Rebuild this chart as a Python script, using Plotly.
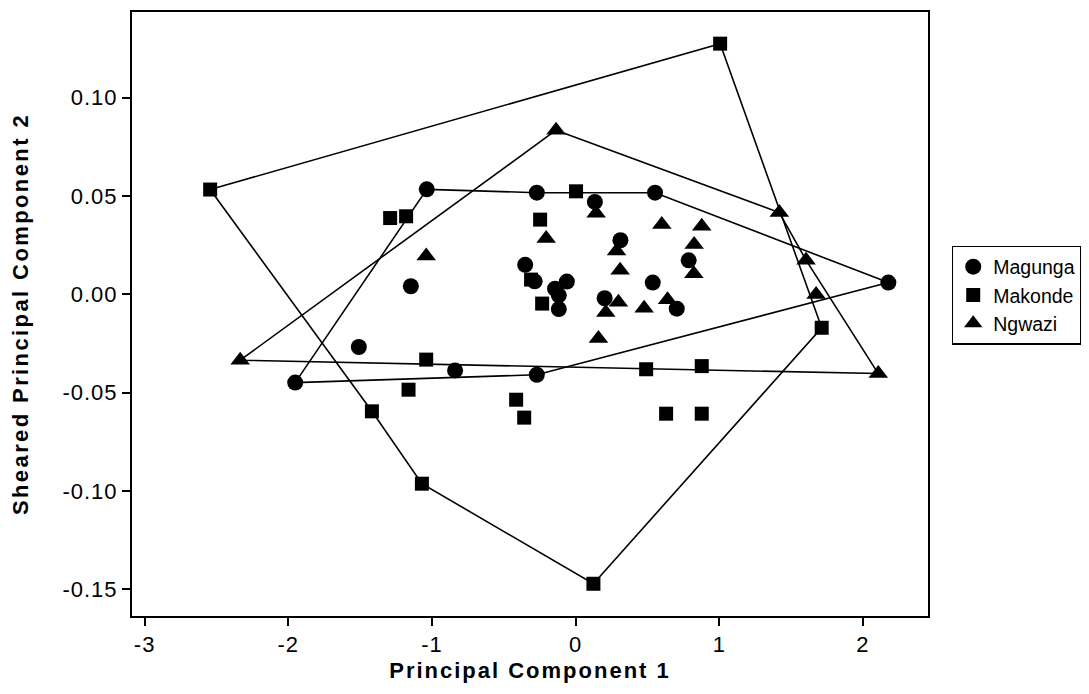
import plotly.graph_objects as go

# ---- data ----
magunga_x = [-1.036, -0.270, 0.134, 0.553, 0.312, -0.351, -1.147, 0.787, -0.285, -0.061,
             -0.143, -0.117, -0.117, 0.202, 0.537, 0.704, 2.177, -1.509, -0.839, -0.270, -1.952]
magunga_y = [0.0534, 0.0517, 0.0470, 0.0517, 0.0275, 0.0150, 0.0041, 0.0173, 0.0066, 0.0065,
             0.0029, -0.0005, -0.0075, -0.0020, 0.0060, -0.0073, 0.0060, -0.0268, -0.0387, -0.0409, -0.0449]
magunga_hull = [0, 1, 3, 16, 19, 20, 0]

makonde_x = [-2.544, 1.006, 0.003, -1.291, -1.180, -0.247, -0.310, -0.233, 1.713, -1.040,
             0.491, 0.878, -1.163, -1.418, -0.414, -0.358, 0.630, 0.878, -1.070, 0.124]
makonde_y = [0.0533, 0.1275, 0.0524, 0.0388, 0.0397, 0.0380, 0.0075, -0.0047, -0.0170, -0.0332,
             -0.0381, -0.0365, -0.0485, -0.0595, -0.0536, -0.0627, -0.0607, -0.0607, -0.0963, -0.1472]
makonde_hull = [0, 1, 8, 19, 18, 13, 0]

ngwazi_x = [-0.136, 0.143, -0.205, 0.600, 0.878, 0.825, 0.285, -1.040, 0.310, 0.823,
            0.298, 0.210, 0.477, 0.640, 0.159, 1.418, 1.604, 1.674, 2.107, -2.335]
ngwazi_y = [0.0835, 0.0412, 0.0284, 0.0355, 0.0346, 0.0254, 0.0221, 0.0195, 0.0123, 0.0105,
            -0.0040, -0.0092, -0.0071, -0.0028, -0.0225, 0.0416, 0.0174, -0.0001, -0.0403, -0.0335]
ngwazi_hull = [0, 15, 16, 18, 19, 0]

x_ticks = [-3, -2, -1, 0, 1, 2]
x_tick_labels = ["-3", "-2", "-1", "0", "1", "2"]
y_ticks = [0.10, 0.05, 0.00, -0.05, -0.10, -0.15]
y_tick_labels = ["0.10", "0.05", "0.00", "-0.05", "-0.10", "-0.15"]

groups = [
    ("Magunga", magunga_x, magunga_y, magunga_hull, "circle", 16),
    ("Makonde", makonde_x, makonde_y, makonde_hull, "square", 14),
    ("Ngwazi", ngwazi_x, ngwazi_y, ngwazi_hull, "triangle-up", 17),
]

FONT = "Liberation Sans, Arial, Helvetica, sans-serif"


def spaced(t, px):
    return '<span style="letter-spacing:%spx">%s</span>' % (px, t)


fig = go.Figure()

# hull outlines first (below markers)
for name, xs, ys, hull, sym, sz in groups:
    fig.add_trace(go.Scatter(
        x=[xs[i] for i in hull], y=[ys[i] for i in hull],
        mode="lines", line=dict(color="black", width=1.6),
        showlegend=False, hoverinfo="skip"))

for name, xs, ys, hull, sym, sz in groups:
    fig.add_trace(go.Scatter(
        x=xs, y=ys, mode="markers", name=name,
        marker=dict(symbol=sym, size=sz, color="black", line=dict(width=0))))

axis_common = dict(
    ticks="outside", ticklen=8, tickwidth=1.5, tickcolor="black",
    showline=True, linewidth=2, linecolor="black", mirror=True,
    showgrid=False, zeroline=False,
    tickfont=dict(family=FONT, size=22, color="black"),
)

fig.update_xaxes(
    range=[-3.088, 2.453], tickmode="array", tickvals=x_ticks,
    ticktext=[spaced(t, 1) for t in x_tick_labels],
    title=dict(text=spaced("<b>Principal Component 1</b>", 2),
               font=dict(family=FONT, size=22, color="black"), standoff=6),
    **axis_common)
fig.update_yaxes(
    range=[-0.1636, 0.1436], tickmode="array", tickvals=y_ticks,
    ticktext=[spaced(t, 1) for t in y_tick_labels],
    title=dict(text=spaced("<b>Sheared Principal Component 2</b>", 2.4),
               font=dict(family=FONT, size=22, color="black"), standoff=28),
    **axis_common)

# the page body adds an 8px offset, so the figure is 8px smaller on each axis
fig.update_layout(
    width=1081, height=686,
    margin=dict(l=124, r=161, t=4, b=78, autoexpand=False),
    paper_bgcolor="white", plot_bgcolor="white",
    font=dict(family=FONT, color="black"),
    legend=dict(x=1.0298, y=0.6126, xanchor="left", yanchor="top",
                bordercolor="black", borderwidth=1.5, bgcolor="white",
                font=dict(family=FONT, size=19.5, color="black")),
)

fig.write_html("out.html")
